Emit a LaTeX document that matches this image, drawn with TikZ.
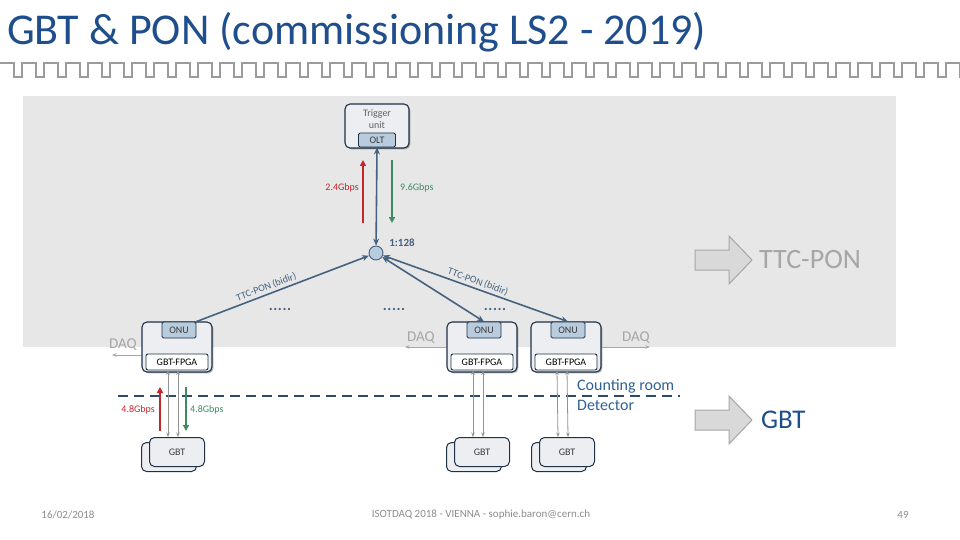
\documentclass[tikz,border=0pt]{standalone}
\usepackage{fontspec}
\setmainfont{Carlito}
\usetikzlibrary{arrows.meta,shadows}
\definecolor{cTitle}{HTML}{1F4E8C}
\definecolor{cSteel}{HTML}{45627F}
\definecolor{cNavy}{HTML}{1E3149}
\definecolor{cOnu}{HTML}{B9CCDE}
\definecolor{cUnitBg}{HTML}{ECEEF1}
\definecolor{cRed}{HTML}{C3262C}
\definecolor{cGreen}{HTML}{3A8C60}
\definecolor{cGrayTxt}{HTML}{A6A6A6}
\definecolor{cPanel}{HTML}{E7E7E7}
\definecolor{cWave}{HTML}{9B9B9B}
\definecolor{cDash}{HTML}{2C4A6C}
\definecolor{cRoom}{HTML}{2F6196}
\definecolor{cFoot}{HTML}{8C8C8C}
\definecolor{cInk}{HTML}{3A3A3A}

\begin{document}
\begin{tikzpicture}[
  x=1pt, y=-1pt,
  font=\fontsize{10}{12}\selectfont,
  ubox/.style={draw=cNavy, fill=cUnitBg, rounded corners=5pt, line width=1.1pt,
               minimum width=#1, minimum height=50, inner sep=0pt,
               drop shadow={shadow xshift=1.3pt, shadow yshift=-1.3pt, opacity=.3, fill=black}},
  onu/.style={draw=cNavy, fill=cOnu, rounded corners=1.5pt, line width=.8pt,
              minimum width=34, minimum height=16, inner sep=0pt, text=cInk},
  fpga/.style={draw=cNavy, fill=white, rounded corners=2pt, line width=.9pt,
               minimum width=62, minimum height=16, inner sep=0pt, text=black},
  gbtbox/.style={draw=cNavy, fill=cUnitBg, rounded corners=5pt, line width=1pt,
                 minimum width=55, minimum height=29, inner sep=0pt, text=cInk},
  pon/.style={draw=cSteel, line width=1.6pt, >={Stealth[length=7pt,width=6pt]}},
  rate/.style={line width=2.3pt, -{Triangle[length=6pt,width=6pt]}},
  link/.style={draw=gray!85, line width=.8pt,
               {Stealth[length=4.5pt,width=3.5pt]}-{Stealth[length=4.5pt,width=3.5pt]}},
  daq/.style={draw=cGrayTxt, line width=.9pt, -{Stealth[length=4.5pt,width=3.5pt]}},
  daqtxt/.style={text=cGrayTxt, font=\fontsize{15}{17}\selectfont, inner sep=0pt},
  ratetxt/.style={font=\fontsize{10}{12}\selectfont, inner sep=0pt},
  dots/.style={text=cSteel, font=\fontsize{15}{15}\selectfont\bfseries, inner sep=0pt, anchor=base},
  bigarr/.style={draw=gray!70, fill=gray!30, line width=1pt, line join=miter},
  foot/.style={text=cFoot, font=\fontsize{11}{13}\selectfont, inner sep=0pt},
]
\useasboundingbox (0,0) rectangle (960,540);

% ---------------- title bar ----------------
\node[anchor=base west, text=cTitle, inner sep=0pt,
      font=\fontsize{44}{48}\selectfont] (title) at (7,45)
  {GBT \& PON (commissioning LS2 - 2019)};
\draw[draw=cWave, line width=2.6pt, line join=miter] (0,63)
  \foreach \i in {0,...,43} { -- ++(14,0) -- ++(0,14) -- ++(8,0) -- ++(0,-14) };

% ---------------- TTC-PON area ----------------
\fill[cPanel] (23,96) rectangle (896,347);

\node[ubox=64, minimum height=44] (trg) at (377,126) {};
\node[text=cInk!80, align=center, inner sep=0pt] (trgt) at (377,119) {Trigger\\unit};
\node[onu, minimum width=37, minimum height=14] (olt) at (377,140) {OLT};

\node[circle, draw=cSteel, fill=cOnu, line width=.9pt, minimum size=14,
      inner sep=0pt] (spl) at (376,253) {};
\node[text=cSteel, font=\fontsize{11}{13}\selectfont\bfseries, inner sep=0pt]
  (ratio) at (402,243) {1:128};

\draw[pon, <->] (olt.south) -- (spl);

% rates on the PON link
\coordinate (redA) at (363,223);  \coordinate (redB) at (363,160);
\coordinate (grnA) at (392,160);  \coordinate (grnB) at (392,223);
\draw[rate, draw=cRed] (redA) -- (redB);
\draw[rate, draw=cGreen] (grnA) -- (grnB);
\node[ratetxt, text=cRed, anchor=east] (r24) at (359,188) {2.4Gbps};
\node[ratetxt, text=cGreen, anchor=west] (r96) at (400,188) {9.6Gbps};

% ---------------- ONU / GBT-FPGA units ----------------
\newcommand{\onuunit}[2]{%
  \node[ubox=70] (#1) at (#2,347) {};
  \node[onu] (#1o) at (#2+2,330) {ONU};
  \node[fpga] (#1f) at (#2,362) {GBT-FPGA};}

\onuunit{uA}{177}
\onuunit{uB}{482}
\onuunit{uC}{566}

\draw[pon, ->] (uAo.north east) -- (spl)
  node[pos=.42, sloped, above, text=cSteel, inner sep=2pt] {TTC-PON (bidir)};
\draw[pon, <->] (spl) -- (uBo.north);
\draw[pon, <->] (spl) -- (uCo.north)
  node[pos=.5, sloped, above, text=cSteel, inner sep=2pt] {TTC-PON (bidir)};

\newcommand{\fivedots}{.\hspace{.6pt}.\hspace{.6pt}.\hspace{.6pt}.\hspace{.6pt}.}
\node[dots] (dA) at (280,310) {\fivedots};
\node[dots] (dB) at (394,310) {\fivedots};
\node[dots] (dC) at (495,310) {\fivedots};

% DAQ outputs
\coordinate (daqA) at (112,355);
\coordinate (daqB) at (405,347);
\coordinate (daqC) at (650,347);
\draw[daq] (uA.west |- daqA) -- (daqA);
\draw[daq] (uB.west |- daqB) -- (daqB);
\draw[daq] (uC.east |- daqC) -- (daqC);
\node[daqtxt] (tA) at (123,345) {DAQ};
\node[daqtxt] (tB) at (421,338) {DAQ};
\node[daqtxt] (tC) at (636,338) {DAQ};

% ---------------- counting room / detector ----------------
\coordinate (sepL) at (118,396);
\coordinate (sepR) at (680,396);
\draw[draw=cDash, line width=2.6pt, dash pattern=on 10pt off 6pt] (sepL) -- (sepR);
\node[anchor=west, text=cRoom, font=\fontsize{16}{18}\selectfont, inner sep=0pt]
  (room) at (577,386) {Counting room};
\node[anchor=west, text=cRoom, font=\fontsize{16}{18}\selectfont, inner sep=0pt]
  (det) at (577,405) {Detector};

% ---------------- GBT front-ends ----------------
\newcommand{\gbtstack}[2]{%
  \node[gbtbox] (#1b) at (#2-8,457) {};
  \node[gbtbox] (#1) at (#2,452) {GBT};}

\gbtstack{gA}{177}
\gbtstack{gB}{482}
\gbtstack{gC}{567}

\foreach \u/\g in {uA/gA, uB/gB, uC/gC} {
  \draw[link] ([xshift=-9pt]\u f.south) -- ([xshift=-9pt]\g.north);
  \draw[link] ([xshift=1pt]\u f.south) -- ([xshift=1pt]\g.north);
}

% rates on the GBT link
\coordinate (redC) at (160,431);  \coordinate (redD) at (160,387);
\coordinate (grnC) at (186,387);  \coordinate (grnD) at (186,431);
\draw[rate, draw=cRed] (redC) -- (redD);
\draw[rate, draw=cGreen] (grnC) -- (grnD);
\node[ratetxt, text=cRed, anchor=east] (r48a) at (155,410) {4.8Gbps};
\node[ratetxt, text=cGreen, anchor=west] (r48b) at (190,410) {4.8Gbps};

% ---------------- legend arrows ----------------
\newcommand{\bigarrow}[1]{%
  \draw[bigarr] (695,#1-10) -- (729,#1-10) -- (729,#1-24) -- (752,#1)
    -- (729,#1+24) -- (729,#1+10) -- (695,#1+10) -- cycle;}
\bigarrow{260}
\bigarrow{420}
\node[anchor=west, text=cGrayTxt, font=\fontsize{28}{30}\selectfont, inner sep=0pt]
  (lpon) at (759,260) {TTC-PON};
\node[anchor=west, text=cTitle, font=\fontsize{27}{29}\selectfont, inner sep=0pt]
  (lgbt) at (761,420) {GBT};

% ---------------- footer ----------------
\node[foot] (date) at (68,515) {16/02/2018};
\node[foot] (conf) at (481,515) {ISOTDAQ 2018 - VIENNA - sophie.baron@cern.ch};
\node[foot] (page) at (903,515) {49};

\end{tikzpicture}
\end{document}
